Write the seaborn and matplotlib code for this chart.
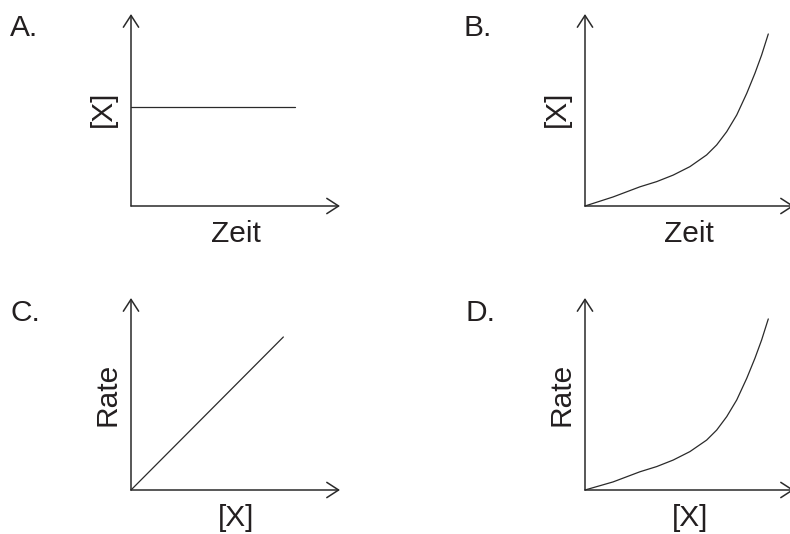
import matplotlib
matplotlib.use("Agg")
import matplotlib.pyplot as plt
import seaborn as sns

# panel A: [X] vs Zeit (constant)
zeit_a = [0.0, 0.785]
conc_a = [0.516, 0.516]

# panel B: [X] vs Zeit (rising curve)
zeit_b = [0.0, 0.134, 0.263, 0.343, 0.422, 0.502, 0.582, 0.630, 0.678,
          0.726, 0.774, 0.813, 0.845, 0.877]
conc_b = [0.0, 0.047, 0.100, 0.127, 0.161, 0.205, 0.266, 0.318, 0.387,
          0.474, 0.587, 0.691, 0.786, 0.896]

# panel C: Rate vs [X] (linear)
conc_c = [0.0, 0.729]
rate_c = [0.0, 0.797]

# panel D: Rate vs [X] (rising curve)
conc_d = [0.0, 0.134, 0.263, 0.343, 0.422, 0.502, 0.582, 0.630, 0.678,
          0.726, 0.774, 0.813, 0.845, 0.877]
rate_d = [0.0, 0.042, 0.095, 0.122, 0.156, 0.200, 0.260, 0.312, 0.382,
          0.469, 0.582, 0.686, 0.781, 0.891]

panel_letters = ["A.", "B.", "C.", "D."]
x_labels = ["Zeit", "Zeit", "[X]", "[X]"]
y_labels = ["[X]", "[X]", "Rate", "Rate"]

sns.set_style("white")
plt.rcParams["font.family"] = ["Liberation Sans", "DejaVu Sans"]

W, H = 790, 534
fig = plt.figure(figsize=(W / 100, H / 100), dpi=100)

ink = "#2a2a2a"
txt = "#231f20"
fs = 21.5

# axes origins (pixels from top-left) and size
origins = [(131, 206), (585, 206), (131, 490), (585, 490)]
aw, ah = 209, 192
letter_pos = [(10, 36), (463, 36), (11, 321), (465, 321)]
ylab_x = [103, 557, 108, 562]
ylab_y = [109, 109, 394, 394]
xlab_x = [236, 689, 236, 690]
xlab_y = [242, 242, 526, 526]

data = [(zeit_a, conc_a), (zeit_b, conc_b), (conc_c, rate_c), (conc_d, rate_d)]

for i, (ox, oy) in enumerate(origins):
    ax = fig.add_axes([ox / W, (H - oy) / H, aw / W, ah / H])
    ax.set_xlim(0, 1)
    ax.set_ylim(0, 1)
    ax.axis("off")

    xs, ys = data[i]
    sns.lineplot(x=xs, y=ys, ax=ax, color=ink, linewidth=0.9, clip_on=False)

    arrow = dict(arrowstyle="->,head_length=0.85,head_width=0.55",
                 color=ink, lw=1.1, shrinkA=0, shrinkB=0, mutation_scale=10)
    ax.annotate("", xy=(1, 0), xytext=(0, 0), xycoords="axes fraction",
                textcoords="axes fraction", arrowprops=arrow, annotation_clip=False)
    ax.annotate("", xy=(0, 1), xytext=(0, 0), xycoords="axes fraction",
                textcoords="axes fraction", arrowprops=arrow, annotation_clip=False)

    lx, ly = letter_pos[i]
    fig.text(lx / W, 1 - ly / H, panel_letters[i], fontsize=fs, color=txt,
             ha="left", va="baseline")
    fig.text(ylab_x[i] / W, 1 - ylab_y[i] / H, y_labels[i], fontsize=fs, color=txt,
             ha="center", va="center", rotation=90)
    fig.text(xlab_x[i] / W, 1 - xlab_y[i] / H, x_labels[i], fontsize=fs, color=txt,
             ha="center", va="baseline")

fig.savefig("out.png", dpi=100, facecolor="white")
